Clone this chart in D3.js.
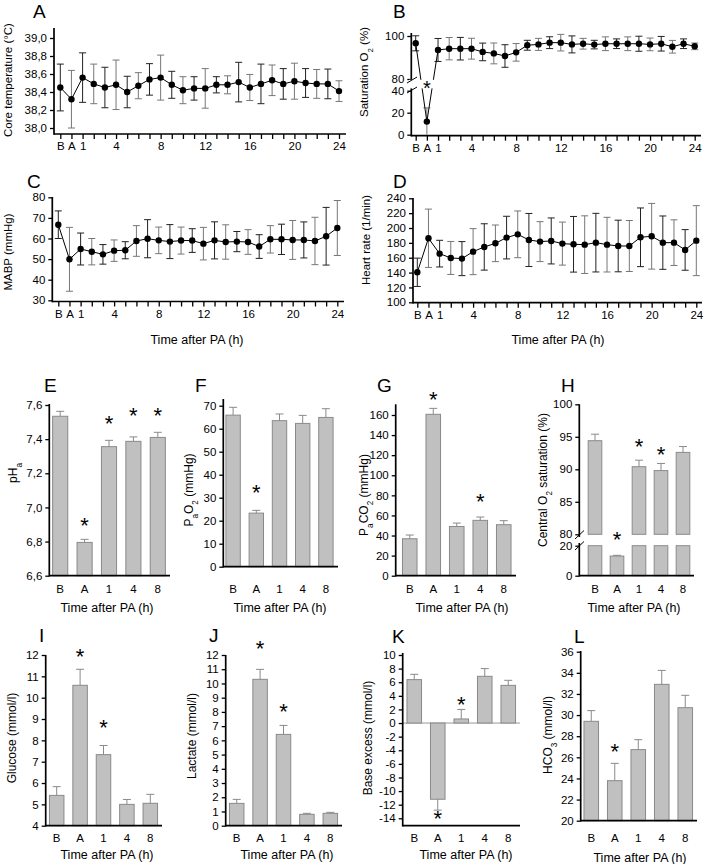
<!DOCTYPE html>
<html><head><meta charset="utf-8">
<script src="https://cdn.jsdelivr.net/npm/d3@7"></script>
<style>body{margin:0;background:#fff}</style>
</head><body><script>
const FONT = '"Liberation Sans", Arial, sans-serif';

// ---------- DATA ----------
const timeCats = ["B","A","1","2","3","4","5","6","7","8","9","10","11","12","13","14","15","16","17","18","19","20","21","22","23","24"];
const timeTickLabels = ["B","A","1","4","8","12","16","20","24"];

const tempMean = [38.45,38.32,38.56,38.49,38.45,38.48,38.40,38.47,38.54,38.56,38.48,38.42,38.44,38.44,38.48,38.48,38.51,38.45,38.49,38.53,38.49,38.52,38.50,38.49,38.49,38.41];
const tempSD   = [0.26,0.32,0.275,0.22,0.225,0.275,0.175,0.145,0.175,0.25,0.15,0.15,0.13,0.22,0.09,0.10,0.22,0.145,0.22,0.17,0.17,0.20,0.16,0.16,0.165,0.115];

const satMean = [96.6,11.9,93.5,94.1,94.1,94.1,92.6,91.9,90.7,92.4,95.7,96.1,96.9,96.9,96.1,96.4,96.0,96.4,96.4,96.4,96.4,96.1,96.4,95.0,96.4,95.2];
const satSD   = [3.5,12.5,5.35,5.2,5.25,4.85,4.1,4.85,5.25,4.1,2.3,2.8,2.75,3.85,3.95,2.5,2.0,3.2,2.25,3.2,3.5,2.95,3.4,2.95,2.25,1.55];
const satStar = [0,1,0,0,0,0,0,0,0,0,0,0,0,0,0,0,0,0,0,0,0,0,0,0,0,0];

const mabpMean = [66.7,49.9,54.9,53.6,52.3,54.1,54.3,58.8,59.9,59.1,58.5,59.0,59.0,57.5,59.1,58.3,58.5,58.3,56.1,59.6,59.6,59.3,59.3,58.8,61.1,65.1];
const mabpSD   = [6.7,15.5,7.75,6.4,4.75,5.2,4.15,7.45,9.25,6.45,8.25,6.55,5.75,7.9,9.0,8.35,4.9,6.0,5.75,6.65,7.35,9.45,8.75,11.5,14.0,13.35];

const hrMean = [140.4,186.2,165.5,159.7,158.8,168.2,174.5,179.4,187.1,191.5,183.9,181.7,182.6,179.0,178.1,177.6,180.3,177.6,175.8,175.8,187.5,188.9,180.3,180.3,170.5,183.0];
const hrSD   = [19.05,39.25,17.95,22.2,22.9,30.95,31.2,24.65,28.7,31.45,35.7,26.9,30.95,28.95,37.45,38.8,39.45,36.8,34.75,34.3,39.5,44.2,35.9,30.7,27.35,47.1];

const barCats = ["B","A","1","4","8"];
const phMean = [7.534,6.795,7.356,7.387,7.41];   const phSEM = [0.029,0.018,0.037,0.026,0.03];   const phStar = [0,1,1,1,1];
const pao2Mean = [65.9,23.3,63.5,62.3,64.9];     const pao2SEM = [3.4,1.2,2.9,3.5,3.8];          const pao2Star = [0,1,0,0,0];
const paco2Mean = [36.8,160.7,49.0,55.1,50.8];   const paco2SEM = [3.7,5.9,3.4,3.3,4.0];         const paco2Star = [0,1,0,1,0];
const csatMean = [94.4,13.1,90.4,89.8,92.6];     const csatSEM = [1.0,0.5,1.0,1.1,0.9];          const csatStar = [0,1,1,1,0];
const gluMean = [5.42,10.58,7.33,5.0,5.05];      const gluSEM = [0.41,0.75,0.43,0.23,0.42];      const gluStar = [0,1,1,0,0];
const lacMean = [1.57,10.29,6.42,0.80,0.87];     const lacSEM = [0.28,0.70,0.63,0.07,0.07];      const lacStar = [0,1,1,0,0];
const beMean = [6.38,-11.2,0.6,6.87,5.54];       const beSEM = [0.78,1.6,1.4,1.13,0.74];         const beStar = [0,1,1,0,0];
const hco3Mean = [29.41,23.79,26.73,32.91,30.7]; const hco3SEM = [1.01,1.64,0.94,1.32,1.17];     const hco3Star = [0,1,0,0,0];

// ---------- HELPERS ----------
const svg = d3.select("body").append("svg").attr("width",708).attr("height",864)
  .style("font-family", FONT);
const comma1 = d => d.toFixed(1).replace(".", ",");
const plain = d => String(d);
const AX_W = 1.7;
const STAR = 22;

function addText(g, x, y, parts, o = {}) {
  const size = o.size || 12;
  const t = g.append("text").attr("x", x).attr("y", y)
    .attr("font-family", FONT).attr("font-size", size)
    .attr("text-anchor", o.anchor || "middle").attr("fill", "#000");
  if (o.rotate) t.attr("transform", `rotate(-90,${x},${y})`);
  parts.forEach(p => {
    if (typeof p === "string") t.append("tspan").text(p);
    else t.append("tspan").attr("baseline-shift", "sub").attr("font-size", size * 0.68).text(p.sub);
  });
  return t;
}
function yAxis(g, scale, ticks, fmt, x) {
  const a = g.append("g").attr("transform", `translate(${x},0)`)
    .call(d3.axisLeft(scale).tickValues(ticks).tickFormat(fmt).tickSize(4).tickPadding(3));
  a.select(".domain").remove();
  a.attr("font-family", FONT).attr("font-size", 11.5);
  a.selectAll("line").attr("stroke", "#000").attr("stroke-width", 1.3);
  a.selectAll("text").attr("fill", "#000");
  return a;
}
function vline(g, x, y1, y2, w = AX_W, col = "#000") {
  g.append("line").attr("x1", x).attr("x2", x).attr("y1", y1).attr("y2", y2).attr("stroke", col).attr("stroke-width", w);
}
function hline(g, x1, x2, y, w = AX_W, col = "#000") {
  g.append("line").attr("x1", x1).attr("x2", x2).attr("y1", y).attr("y2", y).attr("stroke", col).attr("stroke-width", w);
}
function star(g, x, cy, size = STAR) {
  g.append("text").attr("x", x).attr("y", cy + size * 0.575).attr("text-anchor", "middle")
    .attr("font-family", FONT).attr("font-size", size).attr("fill", "#000").text("*");
}

// ---------- LINE PANELS ----------
function linePanel(c) {
  const g = svg.append("g");
  const x = d3.scalePoint().domain(timeCats).range([c.x0, c.x1]);
  const y = c.y;
  c.yScales.forEach(s => yAxis(g, s.scale, s.ticks, c.fmt, c.axisX));
  const xa = g.append("g").attr("transform", `translate(0,${c.axisY})`)
    .call(d3.axisBottom(x).tickSize(5).tickPadding(3).tickFormat(d => timeTickLabels.includes(d) ? d : ""));
  xa.select(".domain").remove();
  xa.attr("font-family", FONT).attr("font-size", 11.5);
  xa.selectAll("line").attr("stroke", "#000").attr("stroke-width", 1.3);
  xa.selectAll("text").attr("fill", "#000");
  vline(g, c.axisX, c.yTop, c.axisY + 0.8);
  hline(g, c.axisX, c.xEnd, c.axisY);

  const eb = g.append("g");
  c.mean.forEach((m, i) => {
    const cx = x(timeCats[i]);
    const hi = m + c.sd[i];
    let lo = m - c.sd[i];
    const clamped = c.clampMin !== undefined && lo < c.clampMin;
    if (clamped) lo = c.clampMin;
    const col = i % 2 ? "#777" : "#222";
    vline(eb, cx, y(hi), y(lo), 1, col);
    hline(eb, cx - 3.5, cx + 3.5, y(hi), 1, col);
    if (!clamped) hline(eb, cx - 3.5, cx + 3.5, y(lo), 1, col);
  });
  g.append("path").datum(c.mean)
    .attr("d", d3.line().x((d, i) => x(timeCats[i])).y(d => y(d)))
    .attr("fill", "none").attr("stroke", "#000").attr("stroke-width", 1);
  g.selectAll(null).data(c.mean).join("circle")
    .attr("cx", (d, i) => x(timeCats[i])).attr("cy", d => y(d)).attr("r", 3.2).attr("fill", "#000");
  addText(g, c.letter[1], c.letter[2], [c.letter[0]], {size: 19, anchor: "start"});
  addText(g, c.ylab[1], c.ylab[2], c.ylab[0], {size: 11.5, rotate: true});
  if (c.xlab) addText(g, c.xlab[0], c.xlab[1], ["Time after PA (h)"], {size: 12.5});
  return {g, x, y};
}

// A
{
  const y = d3.scaleLinear([38, 39], [128, 38]);
  linePanel({mean: tempMean, sd: tempSD, x0: 60.3, x1: 339, axisX: 54, axisY: 134, yTop: 28, xEnd: 346,
    y, yScales: [{scale: y, ticks: d3.range(38, 39.01, 0.2)}], fmt: comma1,
    letter: ["A", 33, 18], ylab: [["Core temperature (°C)"], 12, 80]});
}
// B
{
  const yHi = d3.scaleLinear([80, 100], [79, 36]);
  const yLo = d3.scaleLinear([0, 40], [134.7, 90.7]);
  const y = v => v >= 60 ? yHi(v) : yLo(v);
  const p = linePanel({mean: satMean, sd: satSD, x0: 415.7, x1: 694.7, axisX: 411.3, axisY: 135.7, yTop: 33, xEnd: 701,
    y, clampMin: 0,
    yScales: [{scale: yHi, ticks: [80, 100]}, {scale: yLo, ticks: [0, 20, 40]}], fmt: plain,
    letter: ["B", 393, 18], ylab: [["Saturation O", {sub: "2"}, " (%)"], 368, 72]});
  p.g.append("rect").attr("x", 409).attr("y", 79.8).attr("width", 33).attr("height", 8.6).attr("fill", "#fff");
  p.g.append("line").attr("x1", 407).attr("y1", 83).attr("x2", 417).attr("y2", 77).attr("stroke", "#000").attr("stroke-width", 1);
  p.g.append("line").attr("x1", 407).attr("y1", 93).attr("x2", 417).attr("y2", 87).attr("stroke", "#000").attr("stroke-width", 1);
  satStar.forEach((s, i) => { if (s) star(p.g, p.x(timeCats[i]), 83.5, 20); });
}
// C
{
  const y = d3.scaleLinear([30, 80], [300.3, 197.3]);
  linePanel({mean: mabpMean, sd: mabpSD, x0: 58.3, x1: 337.3, axisX: 52.3, axisY: 301.5, yTop: 197, xEnd: 344,
    y, yScales: [{scale: y, ticks: d3.range(30, 81, 10)}], fmt: plain,
    letter: ["C", 27, 188], ylab: [["MABP (mmHg)"], 12, 252], xlab: [197, 344]});
}
// D
{
  const y = d3.scaleLinear([100, 240], [302.3, 198.3]);
  linePanel({mean: hrMean, sd: hrSD, x0: 417.3, x1: 696.3, axisX: 413, axisY: 302.7, yTop: 198, xEnd: 702,
    y, yScales: [{scale: y, ticks: d3.range(100, 241, 20)}], fmt: plain,
    letter: ["D", 393, 188], ylab: [["Heart rate (1/min)"], 370, 240], xlab: [558, 344]});
}

// ---------- BAR PANELS ----------
const BAR_FILL = "#c0c0c0", BAR_STROKE = "#8a8a8a", ERR_COL = "#8a8a8a";
function barPanel(c) {
  const g = svg.append("g");
  const x = d3.scaleBand().domain(barCats).range(c.xr).paddingInner(0.38).paddingOuter(0.19);
  const y = c.y;
  yAxis(g, y, c.ticks, c.fmt || plain, c.axisX);
  const base = c.base !== undefined ? c.base : y.domain()[0];
  if (c.base !== undefined) hline(g, c.axisX, c.xEnd, y(c.base), 1, "#999");
  c.mean.forEach((m, i) => {
    const bx = x(barCats[i]), bw = x.bandwidth(), cx = bx + bw / 2;
    const yv = y(m), yb = y(base);
    g.append("rect").attr("x", bx).attr("y", Math.min(yv, yb)).attr("width", bw).attr("height", Math.abs(yb - yv))
      .attr("fill", BAR_FILL).attr("stroke", BAR_STROKE).attr("stroke-width", 1);
    const e = m >= base ? m + c.sem[i] : m - c.sem[i];
    vline(g, cx, yv, y(e), 1, ERR_COL);
    hline(g, cx - 4, cx + 4, y(e), 1, ERR_COL);
    if (c.star[i]) {
      const gap = (c.gaps && c.gaps[i]) || 20;
      star(g, cx, m >= base ? y(e) - gap : y(e) + gap);
    }
  });
  vline(g, c.axisX, c.yTop, c.axisY + 0.8);
  hline(g, c.axisX, c.xEnd, c.axisY);
  const xa = g.append("g").attr("transform", `translate(0,${c.axisY})`)
    .call(d3.axisBottom(x).tickSize(0).tickPadding(c.labelY - c.axisY - 4));
  xa.select(".domain").remove();
  xa.attr("font-family", FONT).attr("font-size", 11.5);
  xa.selectAll("text").attr("fill", "#000");
  addText(g, c.letter[1], c.letter[2], [c.letter[0]], {size: 19, anchor: "start"});
  addText(g, c.ylab[1], c.ylab[2], c.ylab[0], {size: 12, rotate: true});
  addText(g, c.xlab[0], c.xlab[1], ["Time after PA (h)"], {size: 12.5});
  return g;
}

barPanel({mean: phMean, sem: phSEM, star: phStar, xr: [48, 170], axisX: 49.3, axisY: 575.7, yTop: 404, xEnd: 170,
  y: d3.scaleLinear([6.6, 7.6], [575.7, 405]), ticks: d3.range(6.6, 7.61, 0.2), fmt: comma1, labelY: 589,
  gaps: [0, 19, 22, 27, 22], letter: ["E", 44, 392], ylab: [["pH", {sub: "a"}], 17, 473], xlab: [107, 612]});
barPanel({mean: pao2Mean, sem: pao2SEM, star: pao2Star, xr: [221.5, 337.5], axisX: 223.3, axisY: 566.7, yTop: 399, xEnd: 338,
  y: d3.scaleLinear([0, 70], [566.7, 405.7]), ticks: d3.range(0, 71, 10), labelY: 589,
  gaps: [0, 23], letter: ["F", 195, 392], ylab: [["P", {sub: "a"}, "O", {sub: "2"}, " (mmHg)"], 193, 490], xlab: [280, 612]});
barPanel({mean: paco2Mean, sem: paco2SEM, star: paco2Star, xr: [398, 515.5], axisX: 395.7, axisY: 575.7, yTop: 404.3, xEnd: 516,
  y: d3.scaleLinear([0, 160], [575.7, 415]), ticks: d3.range(0, 161, 20), labelY: 589,
  gaps: [0, 14, 0, 21], letter: ["G", 377, 392], ylab: [["P", {sub: "a"}, "CO", {sub: "2"}, " (mmHg)"], 368, 495], xlab: [462, 612]});

// H (broken axis)
{
  const g = svg.append("g");
  const x = d3.scaleBand().domain(barCats).range([584, 694]).paddingInner(0.38).paddingOuter(0.19);
  const yHi = d3.scaleLinear([80, 100], [534.3, 404.3]);
  const yLo = d3.scaleLinear([0, 20], [575.7, 545.7]);
  const y = v => v > 50 ? yHi(v) : yLo(v);
  const axisX = 579.3, axisY = 575.7;
  yAxis(g, yHi, [80, 85, 90, 95, 100], plain, axisX);
  yAxis(g, yLo, [0, 20], plain, axisX);
  csatMean.forEach((m, i) => {
    const bx = x(barCats[i]), bw = x.bandwidth(), cx = bx + bw / 2;
    const rect = (y1, y2) => g.append("rect").attr("x", bx).attr("y", y1).attr("width", bw).attr("height", y2 - y1)
      .attr("fill", BAR_FILL).attr("stroke", BAR_STROKE).attr("stroke-width", 1);
    if (m > 50) { rect(yHi(m), yHi(80)); rect(yLo(20), yLo(0)); }
    else rect(yLo(m), yLo(0));
    const e = m + csatSEM[i];
    vline(g, cx, y(m), y(e), 1, ERR_COL);
    hline(g, cx - 4, cx + 4, y(e), 1, ERR_COL);
    if (csatStar[i]) star(g, cx, y(e) - [0, 21, 19, 14.5, 0][i]);
  });
  vline(g, axisX, 404.3, 537);
  vline(g, axisX, 543, axisY + 0.8);
  hline(g, axisX, 694, axisY);
  g.append("line").attr("x1", 575).attr("y1", 539).attr("x2", 584).attr("y2", 530.5).attr("stroke", "#000").attr("stroke-width", 1);
  g.append("line").attr("x1", 575).attr("y1", 550).attr("x2", 584).attr("y2", 541.5).attr("stroke", "#000").attr("stroke-width", 1);
  const xa = g.append("g").attr("transform", `translate(0,${axisY})`)
    .call(d3.axisBottom(x).tickSize(0).tickPadding(589 - axisY - 4));
  xa.select(".domain").remove();
  xa.attr("font-family", FONT).attr("font-size", 11.5);
  xa.selectAll("text").attr("fill", "#000");
  addText(g, 561, 392, ["H"], {size: 19, anchor: "start"});
  addText(g, 547, 480, ["Central O", {sub: "2"}, " saturation (%)"], {size: 12, rotate: true});
  addText(g, 634, 612, ["Time after PA (h)"], {size: 12.5});
}

barPanel({mean: gluMean, sem: gluSEM, star: gluStar, xr: [45, 162], axisX: 45.7, axisY: 825.7, yTop: 655, xEnd: 162,
  y: d3.scaleLinear([4, 12], [825.7, 655]), ticks: d3.range(4, 13, 1), labelY: 838,
  gaps: [0, 17.6, 23], letter: ["I", 39, 642], ylab: [["Glucose (mmol/l)"], 16, 738], xlab: [107, 859]});
barPanel({mean: lacMean, sem: lacSEM, star: lacStar, xr: [225, 342], axisX: 225.7, axisY: 825.7, yTop: 655, xEnd: 342,
  y: d3.scaleLinear([0, 12], [825.7, 655]), ticks: d3.range(0, 13, 1), labelY: 838,
  gaps: [0, 26, 19], letter: ["J", 209, 642], ylab: [["Lactate (mmol/l)"], 196, 736], xlab: [287, 859]});
barPanel({mean: beMean, sem: beSEM, star: beStar, xr: [402.5, 520], axisX: 402.7, axisY: 825.7, yTop: 653, xEnd: 520,
  y: d3.scaleLinear([-14, 10], [818.3, 655]), ticks: d3.range(-14, 11, 2), labelY: 838, base: 0,
  gaps: [0, 3, 10], letter: ["K", 392, 643], ylab: [["Base excess (mmol/l)"], 372, 738], xlab: [466, 859]});
barPanel({mean: hco3Mean, sem: hco3SEM, star: hco3Star, xr: [579.5, 697], axisX: 580.7, axisY: 820.7, yTop: 651, xEnd: 697,
  y: d3.scaleLinear([20, 36], [820.7, 651.7]), ticks: d3.range(20, 37, 2), labelY: 838,
  gaps: [0, 16.6], letter: ["L", 574, 643], ylab: [["HCO", {sub: "3"}, " (mmol/l)"], 552, 735], xlab: [640, 862]});
</script></body></html>
